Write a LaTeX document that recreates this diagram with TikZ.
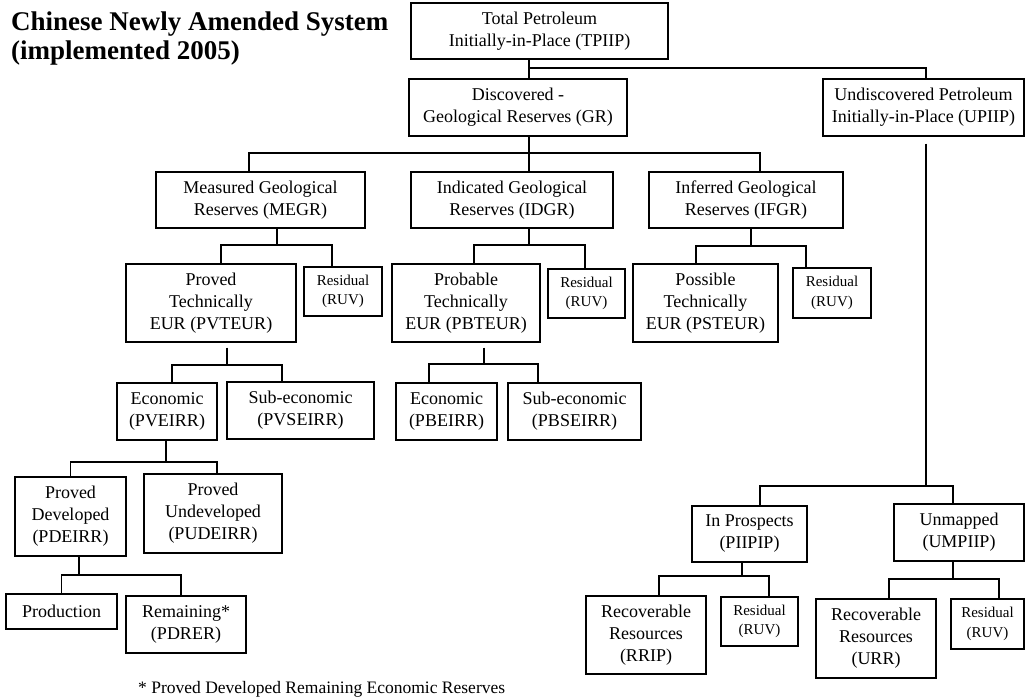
\documentclass[tikz,border=0pt]{standalone}
\usepackage{fontspec}
\setmainfont{Liberation Serif}

\tikzset{
  blk/.style={draw, line width=1.2pt, align=center, inner sep=0pt, font=\fontsize{18}{22}\selectfont},
  res/.style={blk, font=\fontsize{15}{19.5}\selectfont},
  sz/.style 2 args={minimum width=#1pt, minimum height=#2pt},
  ln/.style={line width=1.1pt},
}

\begin{document}
\begin{tikzpicture}[x=1pt,y=-1pt]
  \useasboundingbox (0,0) rectangle (1026,697);

  \node[anchor=north west, align=left, inner sep=0pt, font=\fontsize{27}{28.5}\selectfont\bfseries] (title) at (11,12)
    {Chinese Newly Amended System\\(implemented 2005)};

  % top levels
  \node[blk, sz={257}{56}] (tpiip) at (539.5,31) {Total Petroleum\\Initially-in-Place (TPIIP)};
  \node[blk, sz={218}{57}] (gr) at (518,107.5) {Discovered -\\Geological Reserves (GR)};
  \node[blk, sz={201}{57}] (upiip) at (923.5,107.5) {Undiscovered Petroleum\\Initially-in-Place (UPIIP)};
  \node[blk, sz={209}{56}] (megr) at (260.5,200) {Measured Geological\\Reserves (MEGR)};
  \node[blk, sz={202}{56}] (idgr) at (512,200) {Indicated Geological\\Reserves (IDGR)};
  \node[blk, sz={194}{56}] (ifgr) at (746,200) {Inferred Geological\\Reserves (IFGR)};

  % technically recoverable
  \node[blk, sz={170}{78}] (pvteur) at (211,303) {Proved\\Technically\\EUR (PVTEUR)};
  \node[res, sz={78}{49}] (res1) at (343,291.5) {Residual\\(RUV)};
  \node[blk, sz={148}{78}] (pbteur) at (466,303) {Probable\\Technically\\EUR (PBTEUR)};
  \node[res, sz={77}{49}] (res2) at (586.5,293.5) {Residual\\(RUV)};
  \node[blk, sz={145}{78}] (psteur) at (705.5,303) {Possible\\Technically\\EUR (PSTEUR)};
  \node[res, sz={78}{50}] (res3) at (832,293) {Residual\\(RUV)};

  % economic split
  \node[blk, sz={100}{57}] (pveirr) at (167,411.5) {Economic\\(PVEIRR)};
  \node[blk, sz={147}{57}] (pvseirr) at (300.5,410.5) {Sub-economic\\(PVSEIRR)};
  \node[blk, sz={101}{57}] (pbeirr) at (446.5,411.5) {Economic\\(PBEIRR)};
  \node[blk, sz={133}{57}] (pbseirr) at (574.5,411.5) {Sub-economic\\(PBSEIRR)};
  \node[blk, sz={111}{79}] (pdeirr) at (70.5,516.5) {Proved\\Developed\\(PDEIRR)};
  \node[blk, sz={138}{79}] (pudeirr) at (213,513.5) {Proved\\Undeveloped\\(PUDEIRR)};
  \node[blk, sz={111}{35}] (prod) at (61.5,611.5) {Production};
  \node[blk, sz={120}{57}] (remain) at (186,624.5) {Remaining*\\(PDRER)};

  % undiscovered
  \node[blk, sz={115}{56}] (piipip) at (749.5,534) {In Prospects\\(PIIPIP)};
  \node[blk, sz={130}{57}] (umpiip) at (959,532.5) {Unmapped\\(UMPIIP)};
  \node[blk, sz={120}{78}] (rrip) at (646,635) {Recoverable\\Resources\\(RRIP)};
  \node[res, sz={77}{49}] (res4) at (759.5,621.5) {Residual\\(RUV)};
  \node[blk, sz={120}{79}] (urr) at (876,638.5) {Recoverable\\Resources\\(URR)};
  \node[res, sz={73}{50}] (res5) at (987.5,624) {Residual\\(RUV)};

  \node[anchor=base west, inner sep=0pt, font=\fontsize{17.5}{20}\selectfont] (note) at (138,693)
    {* Proved Developed Remaining Economic Reserves};

  % junctions
  \coordinate (j-tp) at (529,68);
  \coordinate (j-gr) at (529,153);
  \coordinate (j-me) at (277,245);
  \coordinate (j-id) at (529,245);
  \coordinate (j-if) at (751,246);
  \coordinate (j-pv) at (227,365);
  \coordinate (j-pb) at (484,364);
  \coordinate (j-ec) at (166,462);
  \coordinate (j-pd) at (79,575);
  \coordinate (j-up) at (926,486);
  \coordinate (j-pi) at (742,576);
  \coordinate (j-um) at (953,579);

  \draw[ln] (tpiip.south -| j-tp) -- (gr.north -| j-tp);
  \draw[ln] (j-tp) -| ([xshift=2.5pt]upiip.north);
  \draw[ln] (gr.south -| j-gr) -- (idgr.north -| j-gr);
  \draw[ln] ([xshift=-11.5pt]megr.north) |- (j-gr) -| ([xshift=14pt]ifgr.north);

  \draw[ln] (megr.south -| j-me) -- (j-me);
  \draw[ln] ([xshift=10pt]pvteur.north) |- (j-me) -| ([xshift=-11pt]res1.north);
  \draw[ln] (idgr.south -| j-id) -- (j-id);
  \draw[ln] ([xshift=8pt]pbteur.north) |- (j-id) -| ([xshift=-1.5pt]res2.north);
  \draw[ln] (ifgr.south -| j-if) -- (j-if);
  \draw[ln] ([xshift=-9.5pt]psteur.north) |- (j-if) -| ([xshift=-26pt]res3.north);

  \draw[ln, shorten <=5pt] (pvteur.south -| j-pv) -- (j-pv);
  \draw[ln] ([xshift=5pt]pveirr.north) |- (j-pv) -| ([xshift=-18.5pt]pvseirr.north);
  \draw[ln, shorten <=5pt] (pbteur.south -| j-pb) -- (j-pb);
  \draw[ln] ([xshift=-17.5pt]pbeirr.north) |- (j-pb) -| ([xshift=-36.5pt]pbseirr.north);
  \draw[ln] (pveirr.south -| j-ec) -- (j-ec);
  \draw[ln] (pdeirr.north) |- (j-ec) -| ([xshift=4pt]pudeirr.north);
  \draw[ln] (pdeirr.south -| j-pd) -- (j-pd);
  \draw[ln] (prod.north) |- (j-pd) -| ([xshift=-5pt]remain.north);

  \draw[ln, shorten <=7pt] (upiip.south -| j-up) -- (j-up);
  \draw[ln] ([xshift=10.5pt]piipip.north) |- (j-up) -| ([xshift=-6pt]umpiip.north);
  \draw[ln] (piipip.south -| j-pi) -- (j-pi);
  \draw[ln] ([xshift=13pt]rrip.north) |- (j-pi) -| ([xshift=9.5pt]res4.north);
  \draw[ln] (umpiip.south -| j-um) -- (j-um);
  \draw[ln] ([xshift=13pt]urr.north) |- (j-um) -| ([xshift=11.5pt]res5.north);
\end{tikzpicture}
\end{document}
